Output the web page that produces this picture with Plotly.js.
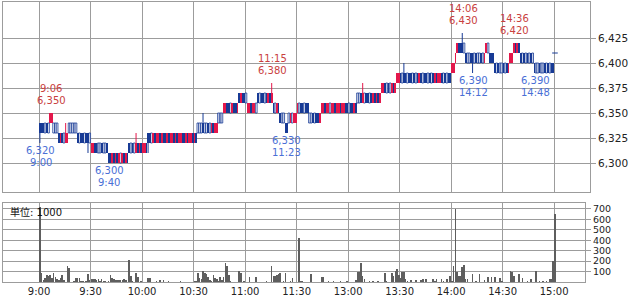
<!DOCTYPE html>
<html><head><meta charset="utf-8">
<script src="https://cdn.plot.ly/plotly-3.0.1.min.js"></script>
<style>html,body{margin:0;padding:0;background:#fff}#chart{width:632px;height:297px}</style>
</head><body><div id="chart"></div>
<script>
// minute index 0 = 9:00, 150 = 11:30/12:30, 300 = 15:00
const openP = [
6340,6340,6340,6330,6340,6330,6340,6340,6330,6330,
6330,6330,6320,6330,6320,6320,6320,6330,6330,6330,
6330,6330,6330,6320,6330,6330,6320,6330,6330,6320,
6310,6310,6320,6320,6310,6310,6320,6310,6310,6320,
6310,6310,6300,6310,6300,6310,6300,6300,6300,6310,
6300,6310,6320,6310,6320,6310,6310,6320,6310,6320,
6310,6310,6320,6330,6330,6320,6320,6330,6320,6320,
6330,6320,6330,6330,6320,6330,6320,6320,6330,6320,
6330,6320,6320,6330,6330,6320,6330,6320,6320,6330,
6320,6330,6330,6330,6330,6340,6330,6330,6340,6330,
6330,6340,6330,6330,6340,6340,6340,6350,6350,6360,
6360,6350,6350,6360,6360,6350,6370,6360,6370,6370,
6360,6350,6350,6360,6350,6350,6350,6370,6360,6370,
6370,6360,6370,6360,6370,6360,6360,6350,6350,6360,
6350,6340,6340,6340,6340,6340,6340,6340,6340,6340,
6350,6350,6360,6360,6350,6360,6360,6340,6340,6350,
6340,6350,6350,6340,6350,6350,6360,6350,6350,6350,
6350,6350,6360,6350,6350,6360,6350,6350,6360,6360,
6350,6360,6360,6350,6360,6360,6360,6370,6360,6360,
6370,6370,6360,6370,6360,6370,6360,6370,6360,6370,
6370,6380,6370,6380,6370,6370,6380,6370,6380,6380,
6390,6380,6390,6390,6380,6390,6390,6380,6390,6380,
6390,6380,6390,6380,6390,6390,6380,6390,6380,6390,
6380,6390,6380,6380,6390,6380,6390,6380,6390,6390,
6390,6390,6400,6410,6420,6420,6420,6410,6410,6400,
6400,6410,6410,6400,6410,6400,6400,6410,6400,6400,
6410,6410,6410,6410,6410,6400,6390,6400,6390,6390,
6400,6390,6400,6390,6400,6400,6410,6420,6410,6420,
6410,6400,6410,6400,6410,6400,6410,6400,6400,6390,
6390,6400,6390,6390,6400,6390,6400,6390,6400,6400,
6410];
const highP = [
6340,6340,6340,6340,6340,6340,6350,6350,6340,6340,
6340,6330,6330,6330,6330,6340,6330,6340,6340,6340,
6340,6340,6330,6330,6330,6330,6330,6330,6330,6330,
6320,6320,6320,6320,6320,6320,6320,6320,6320,6320,
6310,6310,6310,6310,6310,6310,6310,6310,6310,6310,
6310,6310,6320,6320,6320,6320,6330,6320,6320,6320,
6320,6320,6320,6330,6330,6330,6330,6330,6330,6330,
6330,6330,6330,6330,6330,6330,6330,6330,6330,6330,
6330,6330,6330,6330,6330,6330,6330,6330,6330,6330,
6330,6330,6340,6340,6340,6350,6340,6340,6340,6340,
6340,6340,6340,6340,6350,6350,6350,6360,6360,6360,
6360,6360,6360,6360,6360,6360,6370,6370,6370,6370,
6370,6360,6360,6360,6360,6360,6360,6370,6370,6370,
6370,6370,6370,6370,6370,6380,6360,6360,6360,6360,
6350,6350,6350,6340,6340,6350,6350,6350,6350,6350,
6360,6360,6360,6360,6360,6360,6360,6350,6350,6350,
6350,6350,6350,6350,6360,6360,6360,6360,6360,6360,
6360,6360,6360,6360,6360,6360,6360,6360,6360,6360,
6360,6360,6360,6360,6360,6370,6370,6370,6380,6370,
6370,6370,6370,6370,6370,6370,6370,6370,6370,6380,
6380,6380,6380,6380,6380,6380,6380,6380,6390,6390,
6390,6390,6400,6390,6390,6390,6390,6390,6390,6390,
6390,6390,6390,6390,6390,6390,6390,6390,6390,6390,
6390,6390,6390,6390,6390,6390,6390,6390,6390,6390,
6400,6400,6410,6420,6420,6420,6430,6420,6410,6410,
6410,6410,6410,6410,6410,6410,6410,6410,6410,6410,
6420,6420,6410,6410,6410,6400,6400,6400,6400,6400,
6400,6400,6400,6400,6410,6410,6420,6420,6420,6420,
6410,6410,6410,6410,6410,6410,6410,6410,6400,6400,
6400,6400,6400,6400,6400,6400,6400,6400,6400,6400,
6410];
const lowP = [
6320,6330,6330,6330,6330,6330,6340,6340,6330,6330,
6330,6320,6320,6320,6320,6320,6320,6330,6330,6330,
6330,6330,6320,6320,6320,6320,6320,6320,6310,6320,
6310,6310,6310,6310,6310,6310,6310,6310,6310,6310,
6300,6300,6300,6300,6300,6300,6300,6300,6300,6300,
6300,6300,6310,6310,6310,6310,6310,6310,6310,6310,
6310,6310,6310,6310,6320,6320,6320,6320,6320,6320,
6320,6320,6320,6320,6320,6320,6320,6320,6320,6320,
6320,6320,6320,6320,6320,6320,6320,6320,6320,6320,
6320,6320,6330,6330,6330,6330,6330,6330,6330,6330,
6330,6330,6330,6330,6340,6340,6340,6350,6350,6350,
6350,6350,6350,6350,6350,6350,6360,6360,6360,6360,
6360,6350,6350,6350,6350,6350,6350,6360,6360,6360,
6360,6360,6360,6360,6360,6360,6350,6350,6350,6350,
6340,6340,6340,6330,6330,6340,6340,6340,6340,6340,
6350,6350,6350,6350,6350,6350,6350,6340,6340,6340,
6340,6340,6340,6340,6350,6350,6350,6350,6350,6350,
6350,6350,6350,6350,6350,6350,6350,6350,6350,6350,
6350,6350,6350,6350,6350,6360,6360,6360,6360,6360,
6360,6360,6360,6360,6360,6360,6360,6360,6360,6370,
6370,6370,6370,6370,6370,6370,6370,6370,6380,6380,
6380,6380,6380,6380,6380,6380,6380,6380,6380,6380,
6380,6380,6380,6380,6380,6380,6380,6380,6380,6380,
6380,6380,6380,6380,6380,6380,6380,6380,6380,6380,
6390,6390,6400,6410,6410,6410,6410,6410,6400,6400,
6400,6400,6390,6400,6400,6400,6400,6400,6400,6400,
6410,6410,6400,6400,6400,6390,6390,6390,6390,6390,
6390,6390,6390,6390,6400,6400,6410,6410,6410,6410,
6400,6400,6400,6400,6400,6400,6400,6400,6390,6390,
6390,6390,6390,6390,6390,6390,6390,6390,6390,6390,
6410];
const closeP = [
6330,6330,6330,6330,6330,6330,6350,6350,6330,6330,
6330,6320,6330,6320,6320,6330,6330,6330,6330,6330,
6330,6330,6320,6320,6320,6320,6320,6320,6320,6320,
6320,6320,6310,6310,6310,6310,6310,6310,6310,6310,
6300,6300,6310,6300,6310,6300,6310,6300,6310,6300,
6310,6300,6310,6310,6310,6310,6320,6310,6320,6310,
6320,6320,6310,6320,6320,6320,6330,6320,6330,6330,
6320,6330,6320,6320,6330,6320,6330,6330,6320,6330,
6320,6330,6330,6320,6320,6330,6320,6330,6330,6320,
6330,6320,6330,6330,6330,6330,6330,6330,6330,6330,
6340,6330,6340,6340,6340,6340,6340,6360,6360,6350,
6350,6350,6360,6350,6350,6360,6360,6370,6360,6360,
6360,6360,6360,6350,6360,6360,6350,6360,6360,6360,
6360,6360,6360,6370,6360,6370,6350,6350,6360,6350,
6340,6340,6340,6330,6330,6340,6350,6340,6350,6350,
6360,6350,6350,6350,6350,6350,6350,6340,6340,6340,
6340,6340,6340,6350,6360,6360,6350,6360,6360,6350,
6360,6360,6350,6360,6360,6350,6360,6360,6350,6350,
6350,6350,6350,6360,6350,6360,6360,6360,6370,6360,
6360,6360,6360,6360,6370,6360,6370,6360,6370,6380,
6380,6370,6370,6370,6370,6380,6370,6380,6390,6390,
6380,6380,6380,6380,6380,6380,6380,6380,6380,6380,
6380,6390,6380,6380,6380,6380,6380,6380,6380,6380,
6390,6380,6390,6390,6380,6380,6380,6380,6380,6380,
6400,6400,6410,6420,6410,6410,6410,6410,6400,6400,
6400,6400,6400,6400,6400,6400,6400,6400,6400,6410,
6420,6410,6400,6400,6400,6390,6390,6390,6390,6390,
6390,6390,6390,6400,6410,6410,6420,6410,6420,6410,
6400,6400,6400,6400,6400,6400,6400,6400,6390,6390,
6390,6390,6390,6390,6390,6390,6390,6390,6390,6390,
6410];
// volume, unit 1000 shares
const volume = [
720,90,20,40,70,60,70,40,90,50,
30,20,40,70,20,0,150,130,0,0,
10,40,40,40,10,10,0,10,80,20,
30,30,30,20,30,5,30,10,10,0,
10,70,40,30,20,20,20,20,20,30,
20,0,210,60,10,0,90,50,0,10,
0,0,0,40,40,0,0,0,10,0,
15,0,15,0,0,5,0,0,0,0,
0,0,5,0,0,0,0,0,0,0,
5,10,90,40,30,110,90,80,50,20,
10,70,40,30,10,50,20,50,180,150,
70,10,0,0,0,0,110,90,0,10,
0,0,50,0,0,0,50,0,0,0,
0,0,10,0,0,150,60,60,70,80,
90,0,10,90,0,0,10,40,0,0,
0,420,10,10,0,0,0,0,80,0,
0,0,0,0,50,50,0,0,5,0,
0,5,0,0,0,5,0,0,0,5,
0,0,0,0,15,100,100,180,60,30,
0,0,5,0,10,0,0,10,0,0,
0,90,10,0,0,90,60,110,120,70,
40,100,100,30,10,0,20,0,0,20,
0,0,20,30,0,30,0,0,0,30,
10,30,0,0,30,10,0,30,0,60,
10,150,700,100,60,60,140,160,30,30,
0,0,80,0,10,0,80,0,0,20,
0,50,0,50,0,50,0,0,40,10,
0,0,0,0,110,100,60,0,0,80,
0,40,0,0,10,0,30,0,0,110,
0,10,0,10,0,10,0,30,30,200,
650];
const tickIdx = [0,30,60,90,120,150,180,210,240,270,300];
const tickText = ['9:00','9:30','10:00','10:30','11:00','11:30','13:00','13:30','14:00','14:30','15:00'];
const priceTicks = [6300,6325,6350,6375,6400,6425];
const volTicks = [100,200,300,400,500,600,700];
const hiIdx = [6,135,246,276];
const hiVal = [6350,6380,6430,6420];
const loIdx = [0,40,143,252,288];
const loVal = [6320,6300,6330,6390,6390];
const unitLabel = '単位: 1000';

const RED = '#e3174b', BLUE = '#173a95', GRID = '#9c9c9c';
const FONT = 'DejaVu Sans, Noto Sans CJK JP, sans-serif';

function timeOf(i){ const m = i < 150 ? 540 + i : 750 + (i - 150); return Math.floor(m/60) + ':' + String(m%60).padStart(2,'0'); }
function fmt(v){ return v.toLocaleString('en-US'); }

const up = {x:[],base:[],y:[]}, dn = {x:[],base:[],y:[]}, hol = {x:[],base:[],y:[]}, dash = {x:[],y:[]};
const wUp = {x:[],y:[]}, wDn = {x:[],y:[]};
openP.forEach((o,i)=>{
  const c = closeP[i], h = highP[i], l = lowP[i], x = i + 0.5;
  if (c > o){ up.x.push(x); up.base.push(o); up.y.push(c-o); if (h>c||l<o){wUp.x.push(x,x,null); wUp.y.push(l,h,null);} }
  else if (c < o){ dn.x.push(x); dn.base.push(c); dn.y.push(o-c); if (h>o||l<c){wDn.x.push(x,x,null); wDn.y.push(l,h,null);} }
  else if (h > l){ hol.x.push(x); hol.base.push(l); hol.y.push(h-l); }
  else { dash.x.push(x); dash.y.push(o); }
});

const traces = [
  {type:'scatter',mode:'lines',x:wUp.x,y:wUp.y,line:{color:RED,width:1},xaxis:'x',yaxis:'y',hoverinfo:'skip'},
  {type:'scatter',mode:'lines',x:wDn.x,y:wDn.y,line:{color:BLUE,width:1},xaxis:'x',yaxis:'y',hoverinfo:'skip'},
  {type:'bar',x:hol.x,base:hol.base,y:hol.y,width:1,marker:{color:'#ffffff',line:{color:BLUE,width:0.8}},xaxis:'x',yaxis:'y'},
  {type:'bar',x:up.x,base:up.base,y:up.y,width:1,marker:{color:RED,line:{width:0}},xaxis:'x',yaxis:'y'},
  {type:'bar',x:dn.x,base:dn.base,y:dn.y,width:1,marker:{color:BLUE,line:{width:0}},xaxis:'x',yaxis:'y'},
  {type:'scatter',mode:'markers',x:dash.x,y:dash.y,marker:{symbol:'line-ew',size:4,line:{color:BLUE,width:1}},xaxis:'x',yaxis:'y'},
  {type:'bar',x:volume.map((v,i)=>i+0.5),y:volume,width:0.9,marker:{color:'#5e5e5e',line:{width:0}},xaxis:'x2',yaxis:'y2'}
];

const ann = [];
hiIdx.forEach((i,k)=>{
  ann.push({x:i+1,y:hiVal[k],xref:'x',yref:'y',text:fmt(hiVal[k]),showarrow:false,yanchor:'middle',yshift:12.5,font:{color:'#c94040',size:10}});
  ann.push({x:i+1,y:hiVal[k],xref:'x',yref:'y',text:timeOf(i),showarrow:false,yanchor:'middle',yshift:25,font:{color:'#c94040',size:10}});
});
loIdx.forEach((i,k)=>{
  ann.push({x:i+1,y:loVal[k],xref:'x',yref:'y',text:fmt(loVal[k]),showarrow:false,yanchor:'middle',yshift:-7,font:{color:'#4a6fd6',size:10}});
  ann.push({x:i+1,y:loVal[k],xref:'x',yref:'y',text:timeOf(i),showarrow:false,yanchor:'middle',yshift:-19,font:{color:'#4a6fd6',size:10}});
});
ann.push({xref:'paper',yref:'paper',x:5/587,y:70/280,xanchor:'left',yanchor:'middle',text:unitLabel,showarrow:false,font:{color:'#111',size:10}});

const axBase = {showgrid:true,gridcolor:GRID,gridwidth:1,showline:true,linecolor:GRID,linewidth:1,mirror:true,zeroline:false,fixedrange:true};
const layout = {
  width:632,height:297,margin:{l:3,r:42,t:2,b:15,pad:0},
  paper_bgcolor:'#fff',plot_bgcolor:'#fff',showlegend:false,barmode:'overlay',bargap:0,
  font:{family:FONT,size:10,color:'#222'},
  xaxis:Object.assign({},axBase,{domain:[0,1],range:[-21,320.9],anchor:'y',tickvals:tickIdx,showticklabels:false,ticks:''}),
  xaxis2:Object.assign({},axBase,{domain:[0,582/587],range:[-21,318.0],anchor:'y2',tickvals:tickIdx,ticktext:tickText,ticks:'',tickfont:{size:10,color:'#222'}}),
  yaxis:Object.assign({},axBase,{domain:[90/280,1],range:[6271,6461],anchor:'x',side:'right',tickvals:priceTicks,tickformat:',d',ticks:'outside',ticklen:5,tickcolor:GRID,tickfont:{size:10.5,color:'#222'}}),
  yaxis2:Object.assign({},axBase,{domain:[0,79/280],range:[0,756],anchor:'x2',side:'right',tickvals:volTicks,ticks:'outside',ticklen:5,tickcolor:GRID,tickfont:{size:9.5,color:'#222'}}),
  annotations:ann
};
Plotly.newPlot('chart',traces,layout,{staticPlot:true,displayModeBar:false});
</script></body></html>
